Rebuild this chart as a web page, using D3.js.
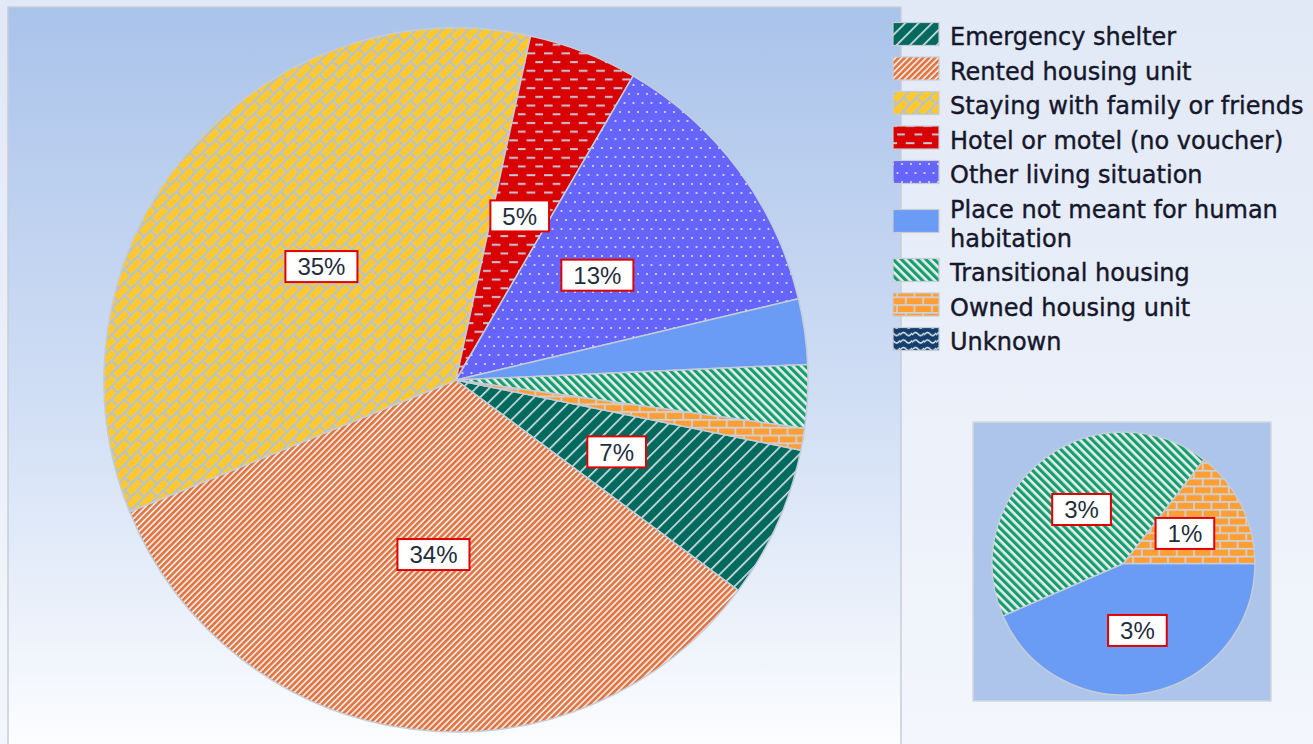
<!DOCTYPE html>
<html>
<head>
<meta charset="utf-8">
<script src="https://cdn.jsdelivr.net/npm/d3@7"></script>
<style>
  body { margin: 0; background: #e6edf8; }
  svg { display: block; }
</style>
</head>
<body>
<svg id="chart" width="1313" height="744"></svg>
<script>
// Prior living situation, share of people (%)
const categories = [
  "Emergency shelter",
  "Rented housing unit",
  "Staying with family or friends",
  "Hotel or motel (no voucher)",
  "Other living situation",
  "Place not meant for human habitation",
  "Transitional housing",
  "Owned housing unit",
  "Unknown"
];
const shares = [7.0, 33.7, 34.5, 5.0, 12.9, 3.0, 2.9, 1.0, 0];

// Legend text, wrapped onto lines
const legendLabels = [
  ["Emergency shelter"],
  ["Rented housing unit"],
  ["Staying with family or friends"],
  ["Hotel or motel (no voucher)"],
  ["Other living situation"],
  ["Place not meant for human", "habitation"],
  ["Transitional housing"],
  ["Owned housing unit"],
  ["Unknown"]
];

// Small slices broken out into the detail pie
const detailCategories = ["Place not meant for human habitation", "Transitional housing", "Owned housing unit"];

const fills = {
  "Emergency shelter": "url(#p-emergency)",
  "Rented housing unit": "url(#p-rented)",
  "Staying with family or friends": "url(#p-staying)",
  "Hotel or motel (no voucher)": "url(#p-hotel)",
  "Other living situation": "url(#p-other)",
  "Place not meant for human habitation": "#6a9cf6",
  "Transitional housing": "url(#p-transitional)",
  "Owned housing unit": "url(#p-owned)",
  "Unknown": "url(#p-unknown)"
};

const data = categories.map((c, i) => ({ category: c, value: shares[i], lines: legendLabels[i] }));

const svg = d3.select("#chart");
const defs = svg.append("defs");

// ---- backgrounds ----
const bgGrad = defs.append("linearGradient").attr("id", "g-page").attr("x1", 0).attr("y1", 0).attr("x2", 0).attr("y2", 1);
bgGrad.append("stop").attr("offset", 0).attr("stop-color", "#e1e9f6");
bgGrad.append("stop").attr("offset", 1).attr("stop-color", "#f3f6fc");

const plotGrad = defs.append("linearGradient").attr("id", "g-plot").attr("x1", 0).attr("y1", 0).attr("x2", 0).attr("y2", 1);
plotGrad.append("stop").attr("offset", 0).attr("stop-color", "#aac3ea");
plotGrad.append("stop").attr("offset", 0.55).attr("stop-color", "#d3e0f5");
plotGrad.append("stop").attr("offset", 1).attr("stop-color", "#ffffff");

// ---- hatch patterns ----
function stripes(id, period, width, angle, fg, bg) {
  const p = defs.append("pattern").attr("id", id).attr("patternUnits", "userSpaceOnUse")
    .attr("width", period).attr("height", period).attr("patternTransform", `rotate(${angle})`);
  p.append("rect").attr("width", period).attr("height", period).attr("fill", bg);
  p.append("rect").attr("x", 0).attr("width", width).attr("height", period).attr("fill", fg);
}
stripes("p-emergency", 9.5, 1.7, 45, "#cfdde2", "#006a5e");
stripes("p-rented", 4.3, 2.5, 45, "#e2743b", "#eee6e6");
stripes("p-transitional", 5.8, 3.2, -45, "#179d6c", "#e6eef0");

// diagonal brick
{
  const s = 13;
  const p = defs.append("pattern").attr("id", "p-staying").attr("patternUnits", "userSpaceOnUse")
    .attr("width", s).attr("height", s);
  p.append("rect").attr("width", s).attr("height", s).attr("fill", "#fec930");
  p.append("path").attr("d", `M-1,${s + 1}L${s + 1},-1M${s / 2},${s / 2}L${s},${s}M-1,1L1,-1M${s - 1},${s + 1}L${s + 1},${s - 1}`)
    .attr("stroke", "#b3c3d7").attr("stroke-width", 2).attr("fill", "none");
}
// dashed horizontal
{
  const p = defs.append("pattern").attr("id", "p-hotel").attr("patternUnits", "userSpaceOnUse")
    .attr("width", 17.4).attr("height", 17.4);
  p.append("rect").attr("width", 17.4).attr("height", 17.4).attr("fill", "#d80000");
  p.append("rect").attr("x", 1).attr("y", 3).attr("width", 8.7).attr("height", 2).attr("fill", "#c9c6d6");
  p.append("rect").attr("x", 9.7).attr("y", 11.7).attr("width", 8.7).attr("height", 2).attr("fill", "#c9c6d6");
}
// dotted
{
  const p = defs.append("pattern").attr("id", "p-other").attr("patternUnits", "userSpaceOnUse")
    .attr("width", 9).attr("height", 18);
  p.append("rect").attr("width", 9).attr("height", 18).attr("fill", "#6565fb");
  p.append("circle").attr("cx", 2).attr("cy", 2).attr("r", 1.1).attr("fill", "#dcdcff");
  p.append("circle").attr("cx", 6.5).attr("cy", 11).attr("r", 1.1).attr("fill", "#dcdcff");
}
// horizontal brick
{
  const p = defs.append("pattern").attr("id", "p-owned").attr("patternUnits", "userSpaceOnUse")
    .attr("width", 17.4).attr("height", 15.6);
  p.append("rect").attr("width", 17.4).attr("height", 15.6).attr("fill", "#ff9e33");
  p.append("path").attr("d", "M0,0.8H17.4M0,8.6H17.4M1,0.8V8.6M9.7,8.6V15.6")
    .attr("stroke", "#cdd3df").attr("stroke-width", 1.7).attr("fill", "none");
}
// wave
{
  const p = defs.append("pattern").attr("id", "p-unknown").attr("patternUnits", "userSpaceOnUse")
    .attr("width", 12).attr("height", 7.5);
  p.append("rect").attr("width", 12).attr("height", 7.5).attr("fill", "#143f6c");
  p.append("path").attr("d", "M0,5 Q3,0.5 6,4 T12,3").attr("stroke", "#e2e8f0").attr("stroke-width", 1.5).attr("fill", "none");
}

// ---- page + plot area ----
svg.append("rect").attr("width", 1313).attr("height", 744).attr("fill", "url(#g-page)");
svg.append("rect").attr("x", 8).attr("y", 7).attr("width", 893).attr("height", 760)
  .attr("fill", "url(#g-plot)").attr("stroke", "#c9cdd6").attr("stroke-width", 1.5);

// ---- label helper: white box with red border ----
function boxLabel(g, x, y, txt) {
  const lg = g.append("g").attr("transform", `translate(${x},${y})`);
  const t = lg.append("text").attr("text-anchor", "middle").attr("dy", "0.36em")
    .attr("font-family", "'Liberation Sans', Arial, sans-serif").attr("font-size", 24)
    .attr("fill", "#1f2d3d").text(txt);
  const w = t.node().getComputedTextLength() + 24;
  lg.insert("rect", "text").attr("x", -w / 2).attr("y", -15.5).attr("width", w).attr("height", 31)
    .attr("fill", "#ffffff").attr("stroke", "#e00000").attr("stroke-width", 2);
}
const pct = v => Math.round(v) + "%";

// ---- main pie ----
const main = { cx: 456, cy: 380, r: 352, start: 101.5 * Math.PI / 180 };
const pie = d3.pie().sort(null).value(d => d.value)
  .startAngle(main.start).endAngle(main.start + 2 * Math.PI);
const arcMain = d3.arc().innerRadius(0).outerRadius(main.r);
const labelArcMain = d3.arc().innerRadius(main.r * 0.5).outerRadius(main.r * 0.5);

const gMain = svg.append("g").attr("transform", `translate(${main.cx},${main.cy})`);
const mainArcs = pie(data);
gMain.selectAll("path.slice").data(mainArcs.filter(d => d.value > 0)).join("path")
  .attr("class", "slice").attr("d", arcMain)
  .attr("fill", d => fills[d.data.category])
  .attr("stroke", "#c4ccd9").attr("stroke-width", 1.5).attr("stroke-linejoin", "round");

mainArcs.filter(d => d.value > 0 && !detailCategories.includes(d.data.category)).forEach(d => {
  const [x, y] = labelArcMain.centroid(d);
  boxLabel(gMain, x, y, pct(d.data.value));
});

// ---- detail pie ----
svg.append("rect").attr("x", 973).attr("y", 422).attr("width", 298).attr("height", 279)
  .attr("fill", "#adc5ea").attr("stroke", "#d2d7e0").attr("stroke-width", 1.5);

const detail = data.filter(d => detailCategories.includes(d.category));
const sub = { cx: 1123.5, cy: 563.5, r: 131.5, start: Math.PI / 2 };
const pieSub = d3.pie().sort(null).value(d => d.value)
  .startAngle(sub.start).endAngle(sub.start + 2 * Math.PI);
const arcSub = d3.arc().innerRadius(0).outerRadius(sub.r);
const labelArcSub = d3.arc().innerRadius(sub.r * 0.52).outerRadius(sub.r * 0.52);
const gSub = svg.append("g").attr("transform", `translate(${sub.cx},${sub.cy})`);
const subArcs = pieSub(detail);
gSub.selectAll("path").data(subArcs).join("path")
  .attr("d", arcSub)
  .attr("fill", d => fills[d.data.category])
  .attr("stroke", "#c4ccd9").attr("stroke-width", 1.5);
subArcs.forEach(d => {
  const [x, y] = labelArcSub.centroid(d);
  boxLabel(gSub, x, y, pct(d.data.value));
});

// ---- legend ----
const legend = svg.append("g");
let base = 45;
data.forEach(d => {
  const n = d.lines.length;
  const last = base + (n - 1) * 29;
  const mid = (base + last) / 2 - 11;
  legend.append("rect").attr("x", 893).attr("y", mid - 11.5).attr("width", 46).attr("height", 23)
    .attr("fill", fills[d.category]).attr("stroke", "#c8ccd4").attr("stroke-width", 1.2);
  d.lines.forEach((ln, i) => {
    legend.append("text").attr("x", 950).attr("y", base + i * 29)
      .attr("font-family", "'DejaVu Sans', Verdana, sans-serif").attr("font-size", 24)
      .attr("fill", "#17172c").attr("stroke", "#17172c").attr("stroke-width", 0.4)
      .text(ln);
  });
  base = last + 34.5;
});
</script>
</body>
</html>
